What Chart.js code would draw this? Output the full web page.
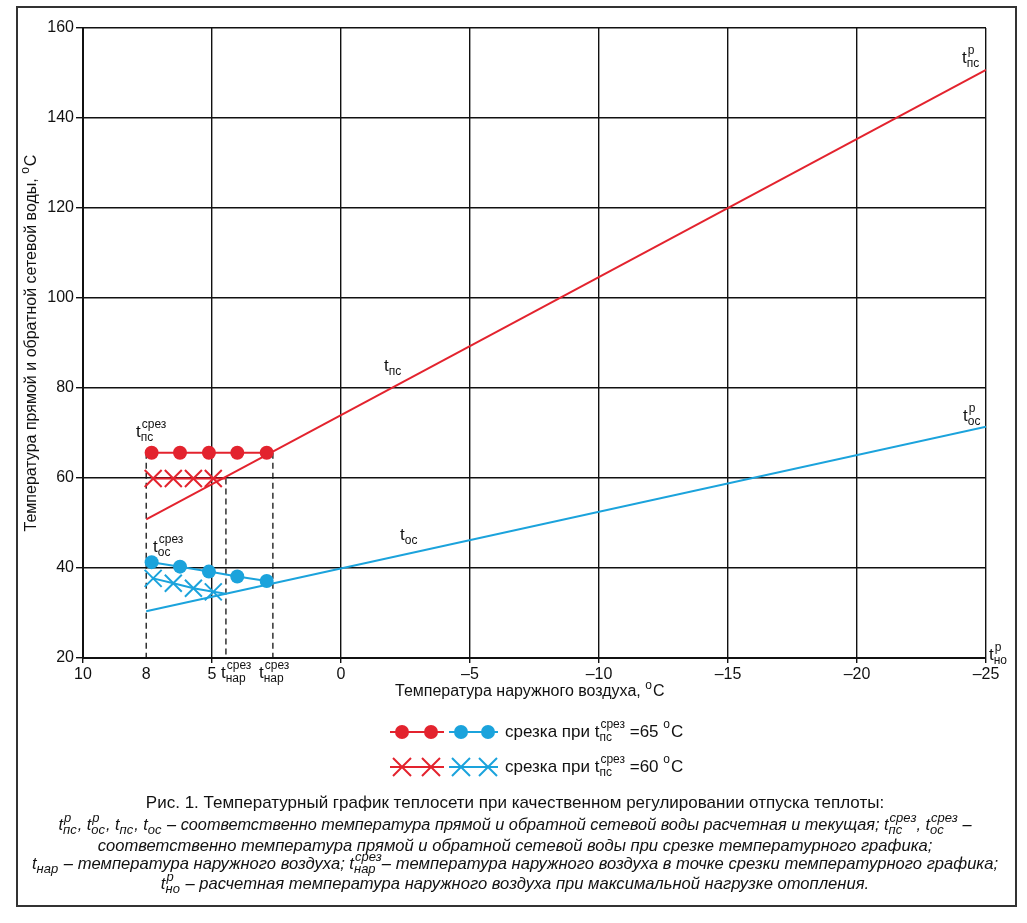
<!DOCTYPE html>
<html><head><meta charset="utf-8">
<script src="https://cdn.jsdelivr.net/npm/chart.js@4.4.1/dist/chart.umd.min.js"></script>
<style>html,body{margin:0;padding:0;background:#fff;}canvas{display:block;}</style>
</head><body>
<canvas id="c" width="1027" height="923"></canvas>
<script>
// ---------- data ----------
const xTickValues = [10, 7.55, 5, 0, -5, -10, -15, -20, -25];
const xTickLabels = ['10', '8', '5', '0', '–5', '–10', '–15', '–20', '–25'];
const yTickValues = [20, 40, 60, 80, 100, 120, 140, 160];

// main temperature chart lines (outdoor temperature -> water temperature)
const mainX = [7.55, -25];
const supplyMain = [50.8, 150.7];   // t_пс
const returnMain = [30.4, 71.4];    // t_ос

// cut-off at t_пс^срез = 65 °C
const cut65X = [7.34, 6.24, 5.12, 4.02, 2.88];
const cut65Supply = [65.6, 65.6, 65.6, 65.6, 65.6];
const cut65Return = [41.3, 40.3, 39.2, 38.1, 37.1];
const cut65OutdoorX = 2.64;
const cut65SupplyEnd = 65.6;
const cut65ReturnEnd = 36.7;

// cut-off at t_пс^срез = 60 °C
const cut60X = [7.28, 6.50, 5.72, 4.95];
const cut60Supply = [59.9, 59.9, 59.9, 59.9];
const cut60Return = [37.7, 36.6, 35.5, 34.7];
const cut60OutdoorX = 4.46;
const cut60SupplyEnd = 59.9;
const cut60ReturnEnd = 34.3;

// dashed guide lines
const guideX = [7.55, cut60OutdoorX, cut65OutdoorX];
const guideTop = [65.6, 59.9, 65.6];
const guideBottom = 20;

// ---------- style ----------
const RED = '#e3232e';
const BLUE = '#1ba3dc';
const INK = '#111111';
const FONT = '"Liberation Sans", Arial, sans-serif';

function pts(xs, ys) { return xs.map((x, i) => ({ x, y: ys[i] })); }

function parseRich(s) {
  const items = []; let i = 0;
  while (i < s.length) {
    const c = s[i];
    if ((c === '^' || c === '_') && s[i + 1] === '{') {
      const j = s.indexOf('}', i + 2);
      const content = s.slice(i + 2, j);
      const key = c === '^' ? 'sup' : 'sub';
      let last = items[items.length - 1];
      if (!last || last.type !== 'script' || last[key] !== undefined) { last = { type: 'script' }; items.push(last); }
      last[key] = content; i = j + 1; continue;
    }
    let last = items[items.length - 1];
    if (!last || last.type !== 'text') { last = { type: 'text', t: '' }; items.push(last); }
    last.t += c; i++;
  }
  return items;
}
function drawRich(ctx, s, x, y, o) {
  o = o || {};
  const size = o.size || 16, ss = o.scriptSize || Math.round(size * 0.72);
  const st = o.italic ? 'italic ' : '';
  const fB = `${st}${size}px ${FONT}`, fS = `${st}${ss}px ${FONT}`;
  const items = parseRich(s);
  let w = 0;
  for (const it of items) {
    if (it.type === 'text') { ctx.font = fB; it.w = ctx.measureText(it.t).width; }
    else { ctx.font = fS; it.w = Math.max(it.sup ? ctx.measureText(it.sup).width : 0, it.sub ? ctx.measureText(it.sub).width : 0) + 1; }
    w += it.w;
  }
  let cx = o.align === 'center' ? x - w / 2 : o.align === 'right' ? x - w : x;
  ctx.save();
  ctx.fillStyle = o.color || INK; ctx.textBaseline = 'middle'; ctx.textAlign = 'left';
  for (const it of items) {
    if (it.type === 'text') { ctx.font = fB; ctx.fillText(it.t, cx, y); }
    else {
      ctx.font = fS;
      if (it.sup) ctx.fillText(it.sup, cx + (it.sub ? 1 : 0), y - size * 0.42);
      if (it.sub) ctx.fillText(it.sub, cx, y + size * 0.32);
    }
    cx += it.w;
  }
  ctx.restore();
  return w;
}

const lineStyle = (color) => ({ borderColor: color, backgroundColor: color, borderWidth: 2, showLine: true });

const datasets = [
  Object.assign({ data: [...pts(cut65X, cut65Supply), { x: cut65OutdoorX, y: cut65SupplyEnd }],
    pointRadius: c => c.dataIndex < cut65X.length ? 7 : 0, pointStyle: 'circle', pointBorderWidth: 0 }, lineStyle(RED)),
  Object.assign({ data: [...pts(cut65X, cut65Return), { x: cut65OutdoorX, y: cut65ReturnEnd }],
    pointRadius: c => c.dataIndex < cut65X.length ? 7 : 0, pointStyle: 'circle', pointBorderWidth: 0 }, lineStyle(BLUE)),
  Object.assign({ data: [...pts(cut60X, cut60Supply), { x: cut60OutdoorX, y: cut60SupplyEnd }],
    pointRadius: c => c.dataIndex < cut60X.length ? 12 : 0, pointStyle: 'crossRot', pointBorderWidth: 2 }, lineStyle(RED)),
  Object.assign({ data: [...pts(cut60X, cut60Return), { x: cut60OutdoorX, y: cut60ReturnEnd }],
    pointRadius: c => c.dataIndex < cut60X.length ? 12 : 0, pointStyle: 'crossRot', pointBorderWidth: 2 }, lineStyle(BLUE)),
  Object.assign({ data: pts(mainX, supplyMain), pointRadius: 0 }, lineStyle(RED)),
  Object.assign({ data: pts(mainX, returnMain), pointRadius: 0 }, lineStyle(BLUE)),
  ...guideX.map((gx, i) => ({ data: [{ x: gx, y: guideTop[i] }, { x: gx, y: guideBottom }],
    borderColor: INK, borderWidth: 1.3, borderDash: [6, 4], pointRadius: 0, showLine: true }))
];

const annotations = [
  { s: 't_{пс}', x: 384, y: 366 },
  { s: 't_{ос}', x: 400, y: 535 },
  { s: 't^{р}_{пс}', x: 962, y: 58 },
  { s: 't^{р}_{ос}', x: 963, y: 416 },
  { s: 't^{р}_{но}', x: 989, y: 655 },
  { s: 't^{срез}_{пс}', x: 136, y: 432 },
  { s: 't^{срез}_{ос}', x: 153, y: 547 },
  { s: 't^{срез}_{нар}', x: 221, y: 673 },
  { s: 't^{срез}_{нар}', x: 259, y: 673 }
];

const captionLines = [
  { s: 'Рис. 1. Температурный график теплосети при качественном регулировании отпуска теплоты:', y: 803, italic: false, size: 17 },
  { s: 't^{р}_{пс}, t^{р}_{ос}, t_{пс}, t_{ос} – соответственно температура прямой и обратной сетевой воды расчетная и текущая; t^{срез}_{пс}, t^{срез}_{ос} –', y: 825, italic: true, size: 16.3 },
  { s: 'соответственно температура прямой и обратной сетевой воды при срезке температурного графика;', y: 846, italic: true, size: 16.6 },
  { s: 't_{нар} – температура наружного воздуха; t^{срез}_{нар}– температура наружного воздуха в точке срезки температурного графика;', y: 864, italic: true, size: 16.6 },
  { s: 't^{р}_{но} – расчетная температура наружного воздуха при максимальной нагрузке отопления.', y: 884, italic: true, size: 16.6 }
];

function drawMarker(ctx, style, color, x, y) {
  ctx.save(); ctx.fillStyle = color; ctx.strokeStyle = color; ctx.lineWidth = 2;
  if (style === 'circle') { ctx.beginPath(); ctx.arc(x, y, 7, 0, Math.PI * 2); ctx.fill(); }
  else { const r = 9; ctx.beginPath(); ctx.moveTo(x - r, y - r); ctx.lineTo(x + r, y + r); ctx.moveTo(x - r, y + r); ctx.lineTo(x + r, y - r); ctx.stroke(); }
  ctx.restore();
}
function drawSeg(ctx, color, x1, x2, y) {
  ctx.save(); ctx.strokeStyle = color; ctx.lineWidth = 2; ctx.beginPath(); ctx.moveTo(x1, y); ctx.lineTo(x2, y); ctx.stroke(); ctx.restore();
}

const decor = {
  id: 'decor',
  afterDraw(chart) {
    const ctx = chart.ctx;
    // axis titles
    drawRich(ctx, 'Температура наружного воздуха, ^{o}C', 395, 692, { size: 16 });
    ctx.save(); ctx.translate(32, 343); ctx.rotate(-Math.PI / 2);
    drawRich(ctx, 'Температура прямой и обратной сетевой воды, ^{o}C', 0, 0, { size: 16, align: 'center' });
    ctx.restore();
    // annotations
    annotations.forEach(a => drawRich(ctx, a.s, a.x, a.y, { size: 17, scriptSize: 12 }));
    // legend
    const rows = [{ y: 732, style: 'circle', label: 'срезка при t^{срез}_{пс} =65 ^{o}C' },
                  { y: 767, style: 'cross', label: 'срезка при t^{срез}_{пс} =60 ^{o}C' }];
    rows.forEach(r => {
      drawSeg(ctx, RED, 390, 444, r.y); drawMarker(ctx, r.style, RED, 402, r.y); drawMarker(ctx, r.style, RED, 431, r.y);
      drawSeg(ctx, BLUE, 449, 498, r.y); drawMarker(ctx, r.style, BLUE, 461, r.y); drawMarker(ctx, r.style, BLUE, 488, r.y);
      drawRich(ctx, r.label, 505, r.y, { size: 17, scriptSize: 12 });
    });
    // caption
    captionLines.forEach(l => drawRich(ctx, l.s, 515, l.y, { size: l.size, scriptSize: 13, italic: l.italic, align: 'center' }));
    // frame
    ctx.save(); ctx.strokeStyle = '#333'; ctx.lineWidth = 2;
    ctx.strokeRect(17, 7, 999, 899);
    ctx.restore();
  }
};

new Chart(document.getElementById('c'), {
  type: 'scatter',
  data: { datasets },
  options: {
    responsive: false,
    animation: false,
    devicePixelRatio: 1,
    layout: { padding: { left: 0, top: 28, right: 41, bottom: 0 } },
    plugins: { legend: { display: false }, tooltip: { enabled: false } },
    scales: {
      x: {
        type: 'linear', reverse: true, min: -25, max: 10,
        afterBuildTicks: s => { s.ticks = xTickValues.map(v => ({ value: v })); },
        afterFit: s => { s.height = 923 - 658; },
        grid: {
          color: c => (c.tick && c.tick.value === xTickValues[1]) ? 'rgba(0,0,0,0)' : INK,
          tickColor: c => (c.tick && c.tick.value === xTickValues[1]) ? 'rgba(0,0,0,0)' : INK,
          lineWidth: 1.4, tickLength: 5
        },
        border: { color: INK, width: 2 },
        ticks: {
          autoSkip: false, maxRotation: 0, padding: 2, color: INK,
          font: { family: FONT, size: 16 },
          callback: (v, i) => xTickLabels[i]
        }
      },
      y: {
        type: 'linear', min: 20, max: 160,
        afterBuildTicks: s => { s.ticks = yTickValues.map(v => ({ value: v })); },
        afterFit: s => { s.width = 83; },
        grid: { color: INK, lineWidth: 1.4, tickLength: 7, tickColor: INK },
        border: { color: INK, width: 2 },
        ticks: { padding: 2, color: INK, font: { family: FONT, size: 16 } }
      }
    }
  },
  plugins: [decor]
});
</script>
</body></html>
